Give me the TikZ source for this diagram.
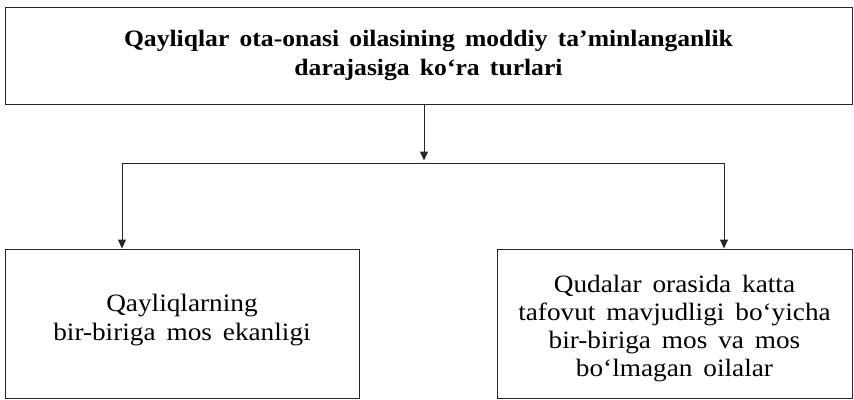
\documentclass[tikz,border=0pt]{standalone}
\usepackage{fontspec}
\setmainfont{Liberation Serif}
\newfontfamily\headfont[FakeStretch=1.09, WordSpace=1.6]{Liberation Serif}
\newfontfamily\bodyfont[FakeStretch=1.09, WordSpace=1.6]{Liberation Serif}
\usetikzlibrary{arrows.meta}
\begin{document}
\begin{tikzpicture}[x=1pt,y=-1pt,
  line width=1pt,
  box/.style={draw=black!85, line width=1pt, inner sep=0pt, align=center},
  link/.style={draw=black!85, line width=1pt},
  arrowlink/.style={link, -{Triangle[width=8pt,length=9pt]}},
  headtext/.style={font=\headfont\fontsize{23.5}{29}\selectfont\bfseries},
  bodytext/.style={inner sep=0pt, align=center, font=\bodyfont\fontsize{25}{28.3}\selectfont}]
  \useasboundingbox (0,0) rectangle (854,399);

  % frames
  \node[box, headtext, minimum width=847pt, minimum height=97pt] (top) at (428.5,55.5)
    {Qayliqlar ota-onasi oilasining moddiy ta’minlanganlik\\darajasiga ko‘ra turlari};
  \node[box, minimum width=354pt, minimum height=149pt] (left) at (182,323.5) {};
  \node[box, minimum width=355pt, minimum height=149pt] (right) at (674.5,323.5) {};

  % captions inside the lower frames
  \node[bodytext, yshift=3.5pt] (lefttext) at (left)
    {Qayliqlarning\\bir-biriga mos ekanligi};
  \node[bodytext, yshift=-5pt] (righttext) at (right)
    {Qudalar orasida katta\\tafovut mavjudligi bo‘yicha\\bir-biriga mos va mos\\bo‘lmagan oilalar};

  % branching connector
  \coordinate (j) at (424,163);
  \coordinate (jl) at (122,163);
  \coordinate (jr) at (724,163);

  \draw[arrowlink, shorten >=2.5pt] (top.south -| j) -- (j);
  \draw[link] (jl) -- (jr);
  \draw[arrowlink] (jl) -- (jl |- left.north);
  \draw[arrowlink] (jr) -- (jr |- right.north);
\end{tikzpicture}
\end{document}
